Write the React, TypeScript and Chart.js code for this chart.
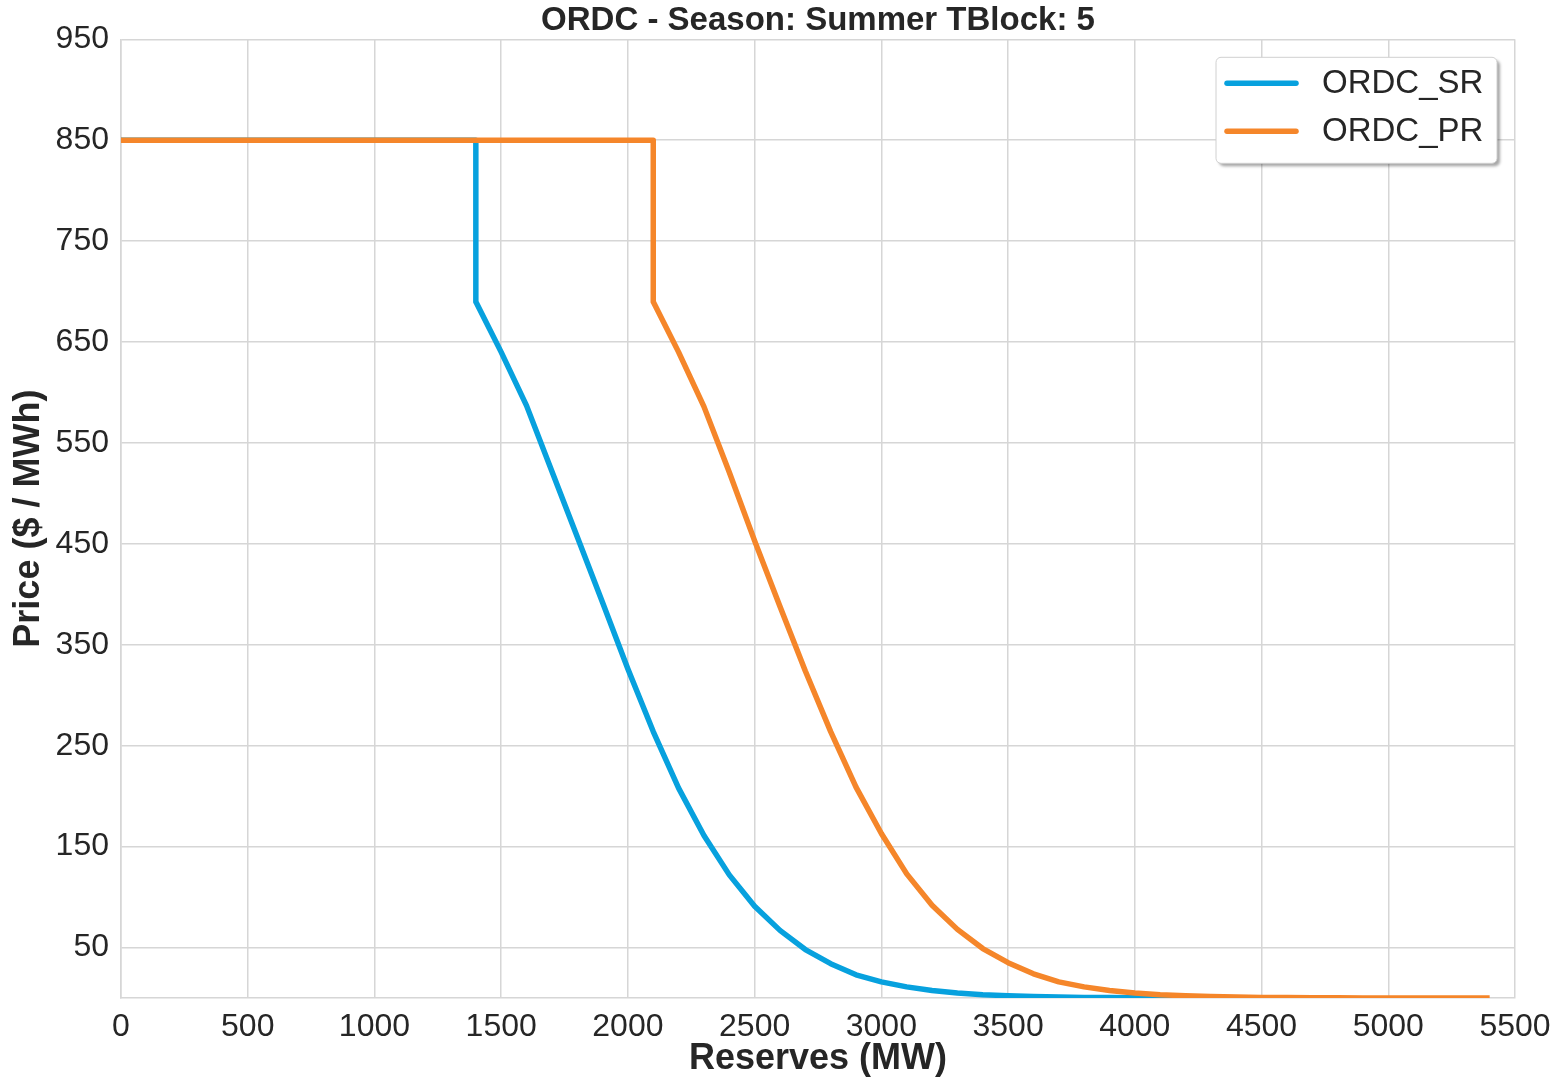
import React, { useEffect, useRef } from "react";
import { Chart, registerables } from "chart.js";

Chart.register(...registerables);

const chartTitle = "ORDC - Season: Summer TBlock: 5";
const xAxisTitle = "Reserves (MW)";
const yAxisTitle = "Price ($ / MWh)";

const srLabel = "ORDC_SR";
const srReserves = [0, 1400, 1400, 1500, 1600, 1700, 1800, 1900, 2000, 2100, 2200, 2300, 2400, 2500, 2600, 2700, 2800, 2900, 3000, 3100, 3200, 3300, 3400, 3500, 3600, 3700, 3800, 3900, 4000, 4100, 4200, 4300, 4400, 4500, 4600, 4700];
const srPrice = [850, 850, 690, 640, 587, 522, 457, 392, 326, 264, 208, 161, 122, 91, 67, 48, 34, 23, 16, 11, 7.5, 5, 3.3, 2.2, 1.4, 0.9, 0.6, 0.4, 0.25, 0.15, 0.1, 0.06, 0.04, 0.02, 0.01, 0];

const prLabel = "ORDC_PR";
const prReserves = [0, 2100, 2100, 2200, 2300, 2400, 2500, 2600, 2700, 2800, 2900, 3000, 3100, 3200, 3300, 3400, 3500, 3600, 3700, 3800, 3900, 4000, 4100, 4200, 4300, 4400, 4500, 4600, 4700, 4800, 4900, 5000, 5100, 5200, 5300, 5400];
const prPrice = [850, 850, 690, 640, 586, 521, 453, 388, 324, 264, 209, 163, 123, 92, 68, 49, 35, 24, 16, 11, 7.5, 5, 3.3, 2.2, 1.4, 0.9, 0.6, 0.4, 0.25, 0.15, 0.1, 0.06, 0.04, 0.02, 0.01, 0];

const yTickValues = [50, 150, 250, 350, 450, 550, 650, 750, 850, 950];
const xMin = 0;
const xMax = 5500;
const xStep = 500;
const yMin = 0;
const yMax = 950;

const srColor = "#07a1de";
const prColor = "#f5862a";
const gridColor = "#d6d6d6";
const textColor = "#262626";
const FONT = "'Liberation Sans', Arial, Helvetica, sans-serif";

const legendPlugin = {
  id: "insideLegend",
  afterDraw(chart: any) {
    const { ctx, chartArea } = chart;
    const boxW = 281;
    const boxH = 106;
    const right = chartArea.right - 18;
    const top = chartArea.top + 18;
    const left = right - boxW;
    ctx.save();
    ctx.shadowColor = "rgba(0,0,0,0.35)";
    ctx.shadowOffsetX = 3;
    ctx.shadowOffsetY = 3;
    ctx.shadowBlur = 3;
    ctx.fillStyle = "#ffffff";
    ctx.beginPath();
    ctx.roundRect(left, top, boxW, boxH, 5);
    ctx.fill();
    ctx.shadowColor = "transparent";
    ctx.strokeStyle = "#d0d0d0";
    ctx.lineWidth = 1;
    ctx.stroke();
    const ds = chart.data.datasets;
    ds.forEach((d: any, i: number) => {
      const cy = top + 26 + i * 48;
      ctx.strokeStyle = d.borderColor;
      ctx.lineWidth = 5.5;
      ctx.lineCap = "round";
      ctx.beginPath();
      ctx.moveTo(left + 11, cy);
      ctx.lineTo(left + 80, cy);
      ctx.stroke();
      ctx.fillStyle = textColor;
      ctx.font = `33px ${FONT}`;
      ctx.textBaseline = "middle";
      ctx.textAlign = "left";
      ctx.fillText(d.label, left + 106, cy + 1);
    });
    ctx.restore();
  },
};

export default function App() {
  const canvasRef = useRef<HTMLCanvasElement | null>(null);

  useEffect(() => {
    const canvas = canvasRef.current;
    if (!canvas) return;
    const srData = srReserves.map((x, i) => ({ x, y: srPrice[i] }));
    const prData = prReserves.map((x, i) => ({ x, y: prPrice[i] }));
    const chart = new Chart(canvas, {
      type: "line",
      data: {
        datasets: [
          {
            label: srLabel,
            data: srData,
            borderColor: srColor,
            backgroundColor: srColor,
            borderWidth: 5.5,
            pointRadius: 0,
            tension: 0,
            order: 1,
            borderJoinStyle: "round",
          },
          {
            label: prLabel,
            data: prData,
            borderColor: prColor,
            backgroundColor: prColor,
            borderWidth: 5.5,
            pointRadius: 0,
            tension: 0,
            order: 0,
            borderJoinStyle: "round",
          },
        ],
      },
      options: {
        responsive: false,
        animation: false,
        layout: { padding: { left: 0, right: 39, top: 0, bottom: 0 } },
        plugins: {
          legend: { display: false },
          tooltip: { enabled: false },
          title: {
            display: true,
            text: chartTitle,
            fullSize: false,
            color: textColor,
            font: { family: FONT, size: 33, weight: "bold", lineHeight: 1.1 },
            padding: { top: 3, bottom: 0 },
          },
        },
        scales: {
          x: {
            type: "linear",
            min: xMin,
            max: xMax,
            ticks: {
              stepSize: xStep,
              color: textColor,
              font: { family: FONT, size: 32 },
              padding: 10,
              maxRotation: 0,
              autoSkip: false,
              callback: (v: any) => String(v),
            },
            grid: { color: gridColor, lineWidth: 1.5, drawTicks: false },
            border: { color: gridColor, width: 1.5 },
            title: {
              display: true,
              text: xAxisTitle,
              color: textColor,
              font: { family: FONT, size: 36, weight: "bold", lineHeight: 1.2 },
              padding: { top: 0, bottom: 0 },
            },
            afterFit(scale: any) {
              scale.height = 83;
              scale.paddingLeft = 0;
              scale.paddingRight = 0;
            },
          },
          y: {
            type: "linear",
            min: yMin,
            max: yMax,
            afterBuildTicks(scale: any) {
              scale.ticks = yTickValues.map((v) => ({ value: v }));
            },
            ticks: {
              color: textColor,
              font: { family: FONT, size: 32 },
              padding: 12,
              callback: (v: any) => String(v),
            },
            grid: { color: gridColor, lineWidth: 1.5, drawTicks: false },
            border: { color: gridColor, width: 1.5 },
            title: {
              display: true,
              text: yAxisTitle,
              color: textColor,
              font: { family: FONT, size: 36, weight: "bold", lineHeight: 1.2 },
              padding: { top: 7, bottom: 0 },
            },
            afterFit(scale: any) {
              scale.width = 121;
              scale.paddingTop = 0;
              scale.paddingBottom = 0;
            },
          },
        },
      },
      plugins: [legendPlugin],
    });
    return () => chart.destroy();
  }, []);

  return (
    <div style={{ position: "absolute", left: 0, top: 0, width: 1554, height: 1081, background: "#ffffff" }}>
      <canvas ref={canvasRef} width={1554} height={1081} style={{ display: "block" }} />
    </div>
  );
}
